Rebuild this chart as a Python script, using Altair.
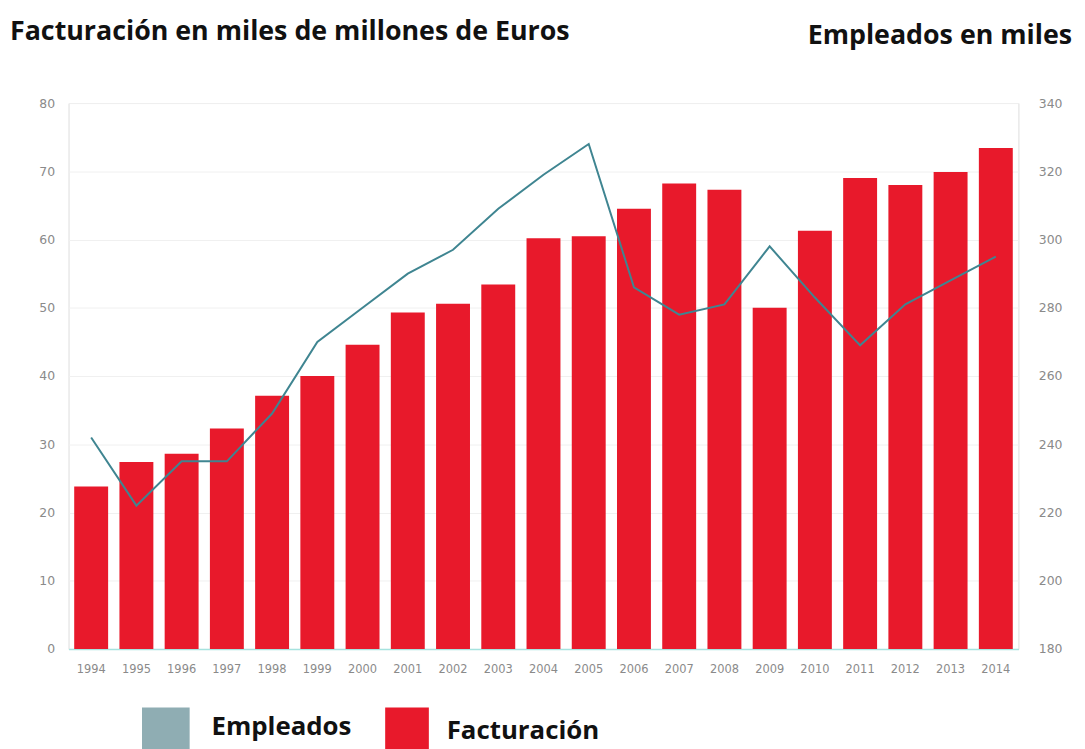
import altair as alt
import pandas as pd

years = [str(y) for y in range(1994, 2015)]
facturacion = [23.8, 27.4, 28.6, 32.3, 37.1, 40.0, 44.6, 49.3, 50.6, 53.4, 60.2,
               60.5, 64.5, 68.2, 67.3, 50.0, 61.3, 69.0, 68.0, 69.9, 73.4]
empleados = [242, 222, 235, 235, 249, 270, 280, 290, 297, 309, 319,
             328, 286, 278, 281, 298, 283, 269, 281, 288, 295]

df = pd.DataFrame({"year": years, "fact": facturacion, "emp": empleados})

RED = "#e8192b"
TEAL = "#3f8591"
LEG_GRAY = "#8fadb3"
FONT = "Open Sans"
LBL = "DejaVu Sans"

x = alt.X("year:N", title=None,
          scale=alt.Scale(paddingInner=0.25, paddingOuter=0.125),
          axis=alt.Axis(labelAngle=0, labelColor="#8a8a8a", labelFontSize=11.5,
                        labelFont=LBL, domainColor="#a6e3df",
                        domainWidth=1.5, ticks=False, labelPadding=15))

bars = alt.Chart(df).mark_bar(color=RED).encode(
    x=x,
    y=alt.Y("fact:Q", title=None,
            scale=alt.Scale(domain=[0, 80]),
            axis=alt.Axis(values=list(range(0, 81, 10)), labelColor="#8a8a8a",
                          labelFontSize=12.5, labelFont=LBL,
                          domain=False, ticks=False, labelPadding=14,
                          gridColor="#f0f0f0", gridWidth=1)),
)

line = alt.Chart(df).mark_line(color=TEAL, strokeWidth=2).encode(
    x=alt.X("year:N"),
    y=alt.Y("emp:Q", title=None,
            scale=alt.Scale(domain=[180, 340]),
            axis=alt.Axis(orient="right", values=list(range(180, 341, 20)),
                          labelColor="#8a8a8a", labelFontSize=12.5,
                          labelFont=LBL, domain=False,
                          ticks=False, grid=False, labelPadding=20)),
)

base = alt.Chart(pd.DataFrame({"k": [0]}))

title_left = base.mark_text(text="Facturación en miles de millones de Euros",
                            font=FONT, fontWeight="bold", fontSize=27,
                            align="left", baseline="alphabetic",
                            color="#111").encode(x=alt.value(-59), y=alt.value(-64))
title_right = base.mark_text(text="Empleados en miles",
                             font=FONT, fontWeight="bold", fontSize=27,
                             align="right", baseline="alphabetic",
                             color="#111").encode(x=alt.value(1011), y=alt.value(-59))

leg_sq1 = base.mark_rect(color=LEG_GRAY).encode(
    x=alt.value(74), x2=alt.value(122), y=alt.value(609), y2=alt.value(660))
leg_sq2 = base.mark_rect(color=RED).encode(
    x=alt.value(319), x2=alt.value(363), y=alt.value(609), y2=alt.value(660))
leg_t1 = base.mark_text(text="Empleados", font=FONT, fontWeight="bold",
                        fontSize=26, align="left", baseline="alphabetic",
                        color="#111").encode(x=alt.value(144), y=alt.value(637))
leg_t2 = base.mark_text(text="Facturación", font=FONT, fontWeight="bold",
                        fontSize=26, align="left", baseline="alphabetic",
                        color="#111").encode(x=alt.value(381), y=alt.value(641))

main = alt.layer(bars, line).resolve_scale(y="independent")

chart = alt.layer(main, title_left, title_right, leg_sq1, leg_sq2, leg_t1, leg_t2).properties(
    width=957, height=550,
    autosize=alt.AutoSizeParams(type="none"),
    padding={"left": 61, "top": 93, "right": 59, "bottom": 98},
).configure_view(stroke=None).configure(background="white")

chart.save("out.html", embed_options={"renderer": "svg", "actions": False})
